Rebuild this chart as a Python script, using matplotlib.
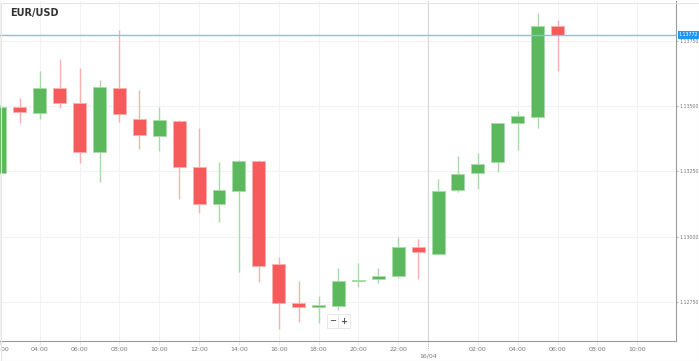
import matplotlib
matplotlib.use("Agg")
import matplotlib.pyplot as plt
from matplotlib.patches import Rectangle

# hourly EUR/USD candles, 15/04 02:00 -> 16/04 06:00 (hours past 15/04 00:00)
hours = list(range(2, 31))
opens = [1.13245, 1.13497, 1.13473, 1.13570, 1.13513, 1.13324, 1.13570, 1.13451,
         1.13386, 1.13444, 1.13268, 1.13125, 1.13175, 1.13291, 1.12895, 1.12745,
         1.12730, 1.12736, 1.12832, 1.12839, 1.12849, 1.12960, 1.12934, 1.13177,
         1.13244, 1.13286, 1.13434, 1.13457, 1.13806]
closes = [1.13497, 1.13477, 1.13570, 1.13510, 1.13324, 1.13573, 1.13468, 1.13389,
          1.13445, 1.13268, 1.13125, 1.13177, 1.13291, 1.12888, 1.12745, 1.12730,
          1.12738, 1.12830, 1.12836, 1.12848, 1.12959, 1.12940, 1.13175, 1.13241,
          1.13278, 1.13434, 1.13463, 1.13806, 1.13772]
highs = [1.13505, 1.13532, 1.13634, 1.13680, 1.13647, 1.13600, 1.13791, 1.13561,
         1.13495, 1.13446, 1.13417, 1.13287, 1.13292, 1.13292, 1.12923, 1.12830,
         1.12773, 1.12881, 1.12898, 1.12881, 1.12998, 1.12990, 1.13219, 1.13309,
         1.13321, 1.13435, 1.13481, 1.13857, 1.13829]
lows = [1.13240, 1.13436, 1.13450, 1.13492, 1.13283, 1.13210, 1.13438, 1.13335,
        1.13328, 1.13144, 1.13092, 1.13056, 1.12864, 1.12828, 1.12645, 1.12672,
        1.12668, 1.12719, 1.12806, 1.12824, 1.12841, 1.12839, 1.12933, 1.13170,
        1.13184, 1.13249, 1.13332, 1.13415, 1.13634]

xtick_pos = [2, 4, 6, 8, 10, 12, 14, 16, 18, 20, 22, 26, 28, 30, 32, 34]
xtick_lab = ["02:00", "04:00", "06:00", "08:00", "10:00", "12:00", "14:00", "16:00",
             "18:00", "20:00", "22:00", "02:00", "04:00", "06:00", "08:00", "10:00"]
day_sep = 23.5
day_label = "16/04"
ytick_vals = [1.12750, 1.13000, 1.13250, 1.13500, 1.13750]

green, green_l = "#5cb85c", "#a9dba9"
red, red_l = "#f65a5a", "#fbb0b0"

fig = plt.figure(figsize=(6.99, 3.61), dpi=100)
ax = fig.add_axes([0, 20 / 361, 676 / 699, 340 / 361])
ax.set_xlim(2.15, 35.95)
ax.set_ylim(1.126008, 1.139018)

# grid
for x in xtick_pos:
    ax.axvline(x, color="#f2f2f2", lw=0.8, zorder=0)
for y in ytick_vals:
    ax.axhline(y, color="#f2f2f2", lw=0.8, zorder=0)
ax.axvline(day_sep, color="#d8d8d8", lw=0.9, zorder=0)

# candles
w = 0.65
min_h = 0.00004
for h, o, c, hi, lo in zip(hours, opens, closes, highs, lows):
    up = c >= o
    col, lcol = (green, green_l) if up else (red, red_l)
    ax.vlines(h, lo, hi, color=lcol, lw=1.0, zorder=1)
    bottom = min(o, c)
    height = max(abs(c - o), min_h)
    ax.add_patch(Rectangle((h - w / 2, bottom), w, height, facecolor=col,
                           edgecolor=lcol, lw=0.6, zorder=2))

# current price line
last = closes[-1]
ax.axhline(last, color="#7cc4f5", lw=1.0, zorder=3)

# axes styling
for s in ["top", "left"]:
    ax.spines[s].set_visible(False)
ax.spines["right"].set_color("#9a9a9a")
ax.spines["bottom"].set_color("#9a9a9a")
ax.yaxis.tick_right()
ax.set_yticks(ytick_vals)
ax.set_yticklabels([f"{v:.5f}" for v in ytick_vals])
ax.tick_params(axis="y", length=1.5, width=0.5, color="#9a9a9a", labelsize=3.4,
               labelcolor="#777777", pad=0.8)
ax.set_xticks(xtick_pos)
ax.set_xticklabels(xtick_lab)
ax.tick_params(axis="x", length=3, width=0.5, color="#dddddd", labelsize=4.5,
               labelcolor="#777777", pad=1.5)

# day separator label
ax.annotate(day_label, xy=(day_sep, 0), xycoords=("data", "axes fraction"),
            xytext=(0, -11), textcoords="offset points", ha="center", va="center",
            fontsize=4.5, color="#777777", annotation_clip=False)
ax.plot([day_sep, day_sep], [0, -0.025], transform=ax.get_xaxis_transform(),
        color="#bbbbbb", lw=0.6, ls=(0, (1.5, 1)), clip_on=False)

# current price tag
ax.annotate(f"{last:.5f}", xy=(1, last), xycoords=("axes fraction", "data"),
            xytext=(2, 0), textcoords="offset points", ha="left", va="center",
            fontsize=3.4, color="white",
            bbox=dict(boxstyle="square,pad=0.25", fc="#2196f3", ec="none"),
            annotation_clip=False)

# title
fig.text(10 / 699, 1 - 13 / 361, "EUR/USD", fontsize=7, fontweight="bold",
         color="#333333", va="center", ha="left")

# zoom buttons
for xc, t in [(333, "\u2212"), (344, "+")]:
    fig.text(xc / 699, 1 - 321 / 361, t, fontsize=6, fontweight="bold",
             color="#555555", ha="center", va="center",
             bbox=dict(boxstyle="square,pad=0.25", fc="white", ec="#e4e4e4", lw=0.6))

# outer border
fig.patches.append(Rectangle((0.5 / 699, 0.5 / 361), 698 / 699, 358 / 361,
                             transform=fig.transFigure, fill=False,
                             ec="#e6e6e6", lw=0.8))

fig.savefig("out.png", dpi=100)
